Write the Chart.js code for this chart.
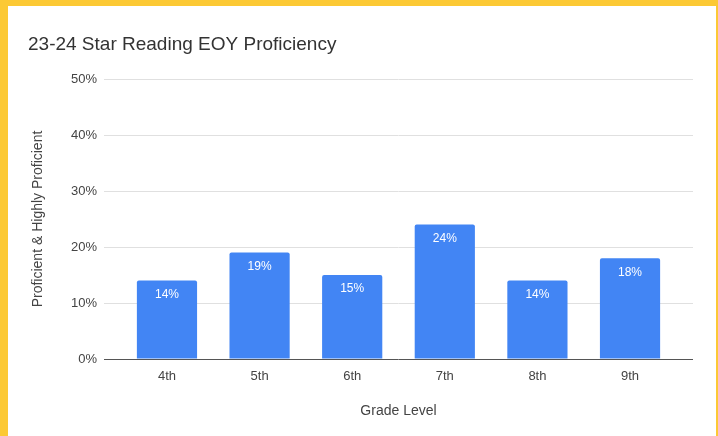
<!DOCTYPE html>
<html>
<head>
<meta charset="utf-8">
<script src="https://cdn.jsdelivr.net/npm/chart.js@4"></script>
<style>
    html, body { margin: 0; padding: 0; }
    body { width: 718px; height: 436px; background: #FCC934; position: relative; overflow: hidden; }
    #wrap { position: absolute; left: 8px; top: 6px; width: 708px; height: 430px; background: #ffffff; }
</style>
</head>
<body>
<div id="wrap"><canvas id="barChart"></canvas></div>
<script>
// Datos del gráfico
const chartTitle = '23-24 Star Reading EOY Proficiency';
const gradeLevels = ['4th', '5th', '6th', '7th', '8th', '9th'];
const proficiency = [14, 19, 15, 24, 14, 18];
const yTicks = [0, 10, 20, 30, 40, 50];

const FONT = '"Liberation Sans", Arial, sans-serif';

// Título dibujado a mano (alineado a la izquierda)
const titlePlugin = {
    id: 'titleLeft',
    afterDraw(chart) {
        const ctx = chart.ctx;
        ctx.save();
        ctx.font = '19px ' + FONT;
        ctx.fillStyle = '#333333';
        ctx.textAlign = 'left';
        ctx.textBaseline = 'alphabetic';
        ctx.fillText(chartTitle, 20, 44);
        ctx.restore();
    }
};

// Etiquetas de valor dentro de las barras
const valueLabels = {
    id: 'valueLabels',
    afterDatasetsDraw(chart) {
        const ctx = chart.ctx;
        const meta = chart.getDatasetMeta(0);
        ctx.save();
        ctx.font = '12px ' + FONT;
        ctx.fillStyle = '#ffffff';
        ctx.textAlign = 'center';
        ctx.textBaseline = 'middle';
        meta.data.forEach((bar, i) => {
            ctx.fillText(proficiency[i] + '%', bar.x, bar.y + 14);
        });
        ctx.restore();
    }
};

document.addEventListener('DOMContentLoaded', function() {
    const ctx = document.getElementById('barChart');

    new Chart(ctx, {
        type: 'bar',
        data: {
            datasets: [{
                label: 'Proficient & Highly Proficient',
                data: gradeLevels.map((g, i) => ({ x: i, y: proficiency[i] })),
                backgroundColor: '#4285F4',
                borderRadius: 2,
                borderSkipped: 'bottom',
                categoryPercentage: 1,
                barPercentage: 0.65
            }]
        },
        options: {
            responsive: true,
            maintainAspectRatio: false,
            animation: false,
            layout: {
                padding: { top: 73, right: 23, bottom: 0, left: 0 }
            },
            plugins: {
                legend: { display: false },
                tooltip: { enabled: false }
            },
            scales: {
                x: {
                    type: 'linear',
                    offset: false,
                    min: -0.68,
                    max: 5.68,
                    afterBuildTicks: function(scale) {
                        scale.ticks = gradeLevels.map((g, i) => ({ value: i }));
                    },
                    afterFit: function(scale) { scale.height = 77; },
                    grid: { display: false, drawTicks: false, offset: false },
                    border: { display: false },
                    ticks: {
                        autoSkip: false,
                        maxRotation: 0,
                        padding: 10,
                        color: '#444444',
                        font: { family: FONT, size: 13 },
                        callback: function(value) { return gradeLevels[value]; }
                    },
                    title: {
                        display: true,
                        text: 'Grade Level',
                        color: '#444444',
                        font: { family: FONT, size: 14 },
                        padding: { top: 0, bottom: 16 }
                    }
                },
                y: {
                    min: 0,
                    max: 50,
                    afterBuildTicks: function(scale) {
                        scale.ticks = yTicks.map(v => ({ value: v }));
                    },
                    afterFit: function(scale) { scale.width = 96; },
                    grid: {
                        drawTicks: false,
                        color: function(c) { return c.tick && c.tick.value === 0 ? '#555555' : '#e0e0e0'; },
                        lineWidth: 1
                    },
                    border: { display: false },
                    ticks: {
                        padding: 7,
                        color: '#444444',
                        font: { family: FONT, size: 13 },
                        callback: function(value) { return value + '%'; }
                    },
                    title: {
                        display: true,
                        text: 'Proficient & Highly Proficient',
                        color: '#444444',
                        font: { family: FONT, size: 14 },
                        padding: { top: 22, bottom: 0 }
                    }
                }
            }
        },
        plugins: [titlePlugin, valueLabels]
    });
});
</script>
</body>
</html>
